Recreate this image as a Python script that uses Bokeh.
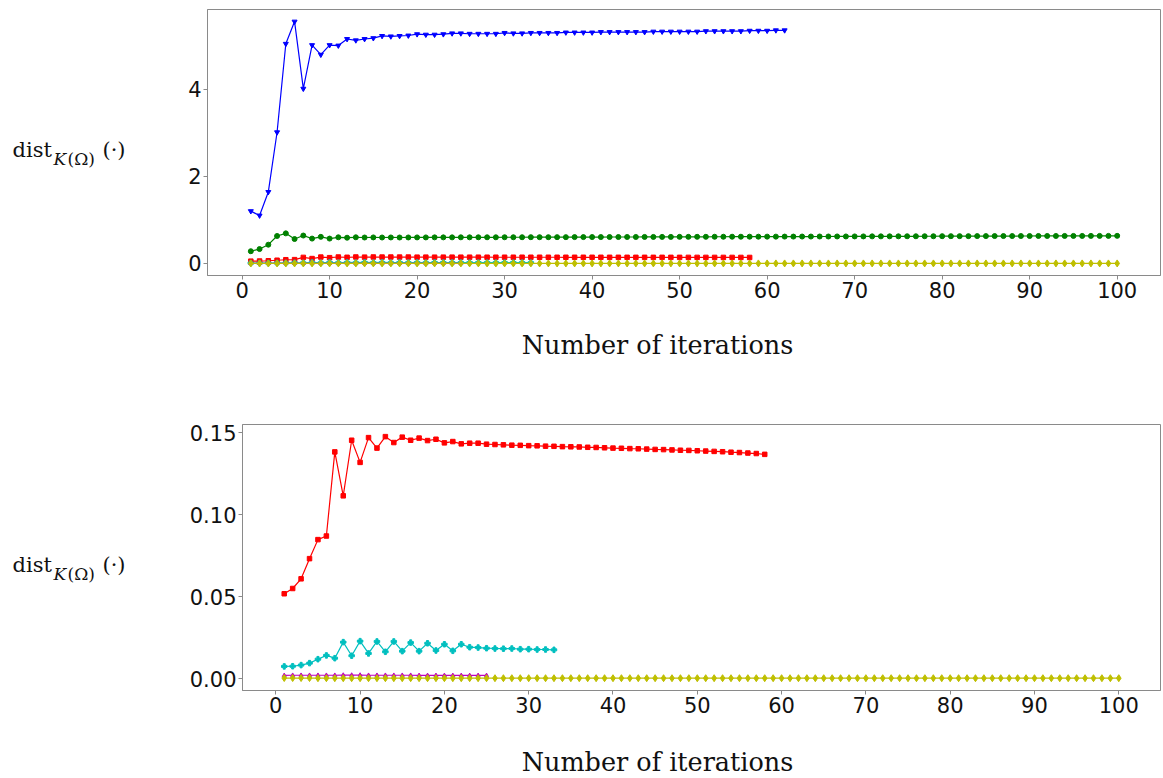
from bokeh.plotting import figure
from bokeh.models import Range1d, FixedTicker, NumeralTickFormatter, Label
from bokeh.embed import file_html
from bokeh.resources import INLINE

# ---------------- data ----------------
blue = [1.20, 1.10, 1.64, 3.01, 5.04, 5.55, 4.01, 5.01, 4.79, 5.01,
        5.00, 5.15, 5.12, 5.15, 5.17, 5.22, 5.21, 5.22, 5.23, 5.26,
        5.25, 5.25, 5.26, 5.28, 5.28, 5.27, 5.27, 5.27, 5.27, 5.29,
        5.28, 5.28, 5.29, 5.29, 5.29, 5.29, 5.30, 5.30, 5.30, 5.30,
        5.31, 5.31, 5.31, 5.31, 5.31, 5.31, 5.32, 5.32, 5.32, 5.32,
        5.32, 5.32, 5.33, 5.33, 5.33, 5.33, 5.33, 5.34, 5.34, 5.34,
        5.35, 5.35]

green = [0.28, 0.33, 0.43, 0.63, 0.69, 0.56, 0.64, 0.57, 0.61, 0.57,
         0.600, 0.590, 0.600, 0.595, 0.597, 0.595, 0.596, 0.595, 0.596, 0.597,
         0.597, 0.598, 0.598, 0.598, 0.599, 0.599, 0.600, 0.600, 0.600, 0.601,
         0.601, 0.601, 0.602, 0.602, 0.602, 0.603, 0.603, 0.604, 0.604, 0.605,
         0.605, 0.606, 0.606, 0.607, 0.607, 0.608, 0.608, 0.609, 0.609, 0.610,
         0.610, 0.611, 0.611, 0.612, 0.612, 0.613, 0.613, 0.614, 0.614, 0.615,
         0.615, 0.616, 0.616, 0.617, 0.617, 0.618, 0.618, 0.619, 0.619, 0.620,
         0.620, 0.621, 0.621, 0.622, 0.622, 0.623, 0.623, 0.624, 0.624, 0.625,
         0.625, 0.626, 0.626, 0.627, 0.627, 0.628, 0.628, 0.628, 0.629, 0.629,
         0.630, 0.630, 0.630, 0.631, 0.631, 0.631, 0.632, 0.632, 0.632, 0.633]

red = [0.0518, 0.0550, 0.0609, 0.0732, 0.0848, 0.0870, 0.1383, 0.1115, 0.1454, 0.1319,
       0.1470, 0.1406, 0.1476, 0.1440, 0.1473, 0.1454, 0.1467, 0.1452, 0.1460, 0.1438,
       0.1446, 0.1432, 0.1436, 0.1436, 0.1430, 0.1428, 0.1426, 0.1424, 0.1423, 0.1421,
       0.1420, 0.1418, 0.1417, 0.1415, 0.1414, 0.1413, 0.1411, 0.1410, 0.1408, 0.1406,
       0.1405, 0.1403, 0.1402, 0.1400, 0.1398, 0.1397, 0.1395, 0.1393, 0.1392, 0.1390,
       0.1388, 0.1386, 0.1384, 0.1381, 0.1379, 0.1376, 0.1373, 0.1368]

cyan = [0.0075, 0.0076, 0.0083, 0.0095, 0.0119, 0.0142, 0.0125, 0.0223, 0.0140, 0.0229,
        0.0154, 0.0227, 0.0164, 0.0227, 0.0168, 0.0220, 0.0168, 0.0216, 0.0172, 0.0210,
        0.0170, 0.0210, 0.0192, 0.0190, 0.0186, 0.0184, 0.0183, 0.0184, 0.0180, 0.0180,
        0.0178, 0.0178, 0.0176]

magenta = [0.0020, 0.0021, 0.0021, 0.0021, 0.0021, 0.0021, 0.0021, 0.0022, 0.0022, 0.0022,
           0.0021, 0.0021, 0.0021, 0.0021, 0.0021, 0.0021, 0.0020, 0.0020, 0.0020, 0.0020,
           0.0020, 0.0020, 0.0020, 0.0020, 0.0020]

yellow = [0.0004, 0.0004, 0.0004, 0.0004, 0.0003, 0.0003, 0.0003, 0.0003, 0.0003, 0.0003,
          0.0003, 0.0003, 0.0003, 0.0003, 0.0003, 0.0003, 0.0003, 0.0003, 0.0003, 0.0003,
          0.0003, 0.0003, 0.0003, 0.0003, 0.0003, 0.0003, 0.0003, 0.0003, 0.0003, 0.0003,
          0.0003, 0.0003, 0.0003, 0.0003, 0.0003, 0.0003, 0.0003, 0.0003, 0.0003, 0.0003,
          0.0003, 0.0003, 0.0003, 0.0003, 0.0003, 0.0003, 0.0003, 0.0003, 0.0003, 0.0003,
          0.0003, 0.0003, 0.0003, 0.0003, 0.0003, 0.0003, 0.0003, 0.0003, 0.0003, 0.0003,
          0.0003, 0.0003, 0.0003, 0.0003, 0.0003, 0.0003, 0.0003, 0.0003, 0.0003, 0.0003,
          0.0003, 0.0003, 0.0003, 0.0003, 0.0003, 0.0003, 0.0003, 0.0003, 0.0003, 0.0003,
          0.0003, 0.0003, 0.0003, 0.0003, 0.0003, 0.0003, 0.0003, 0.0003, 0.0003, 0.0003,
          0.0003, 0.0003, 0.0003, 0.0003, 0.0003, 0.0003, 0.0003, 0.0003, 0.0003, 0.0003]

x_ticks = [0, 10, 20, 30, 40, 50, 60, 70, 80, 90, 100]
top_y_ticks = [0, 2, 4]
bottom_y_ticks = [0.0, 0.05, 0.10, 0.15]
x_label = "Number of iterations"

SERIES = {
    "blue": (blue, "#0000ff", "inverted_triangle", 5),
    "green": (green, "#008000", "circle", 5),
    "red": (red, "#ff0000", "square", 4.5),
    "cyan": (cyan, "#00bfbf", "plus", 5.5),
    "magenta": (magenta, "#bf00bf", "triangle", 4),
    "yellow": (yellow, "#bfbf00", "diamond", 7),
}

GRAY = "#8a8a8a"
TXT = "#111111"
XR = (-3.95, 104.95)
SHIFT = 9  # measured render offset of side-panel labels


def style(p):
    p.xgrid.visible = False
    p.ygrid.visible = False
    p.outline_line_color = GRAY
    p.outline_line_width = 1
    p.background_fill_color = "white"
    p.border_fill_color = "white"
    for ax in (p.xaxis[0], p.yaxis[0]):
        ax.axis_line_color = GRAY
        ax.major_tick_line_color = GRAY
        ax.major_tick_out = 4
        ax.major_tick_in = 0
        ax.minor_tick_line_color = None
        ax.major_label_text_font = "DejaVu Sans"
        ax.major_label_text_font_size = "21px"
        ax.major_label_text_color = TXT
        ax.major_label_standoff = 2
    p.xaxis[0].ticker = FixedTicker(ticks=x_ticks)


def labels(p, frame, yr, fig_top, dist_base, xlab_base):
    """Side-panel labels; page-pixel positions converted through the plot scales."""
    fl, fr, ft, fb = frame

    def dx(px):
        return XR[0] + (px - fl) * (XR[1] - XR[0]) / (fr - fl)

    def dy(py):
        py = py - fig_top - SHIFT
        return yr[1] - (py - ft) * (yr[1] - yr[0]) / (fb - ft)

    common = dict(text_color=TXT, text_font="DejaVu Serif", text_baseline="alphabetic")
    p.add_layout(Label(x=dx(12), y=dy(dist_base), text="dist", text_font_size="21px",
                       **common), "left")
    p.add_layout(Label(x=dx(53), y=dy(dist_base + 9), text="K", text_font_size="17px",
                       text_font_style="italic", **common), "left")
    p.add_layout(Label(x=dx(67), y=dy(dist_base + 9), text="(Ω)", text_font_size="17px",
                       **common), "left")
    p.add_layout(Label(x=dx(102), y=dy(dist_base), text="(·)", text_font_size="21px",
                       **common), "left")
    p.add_layout(Label(x=dx(657), y=dy(xlab_base), text=x_label, text_font_size="25.5px",
                       text_align="center", **common), "below")


def draw(p, names):
    for name in names:
        vals, color, marker, size = SERIES[name]
        xs = list(range(1, len(vals) + 1))
        p.line(xs, vals, line_color=color, line_width=1.2)
        p.scatter(xs, vals, marker=marker, size=size, fill_color=color,
                  line_color=color)


H1, H2 = 392, 386
YR1 = (-0.277, 5.827)
YR2 = (-0.0072, 0.155)

# --------------- top figure ---------------
p1 = figure(width=1162, height=H1, output_backend="svg", toolbar_location=None,
            x_range=Range1d(*XR), y_range=Range1d(*YR1),
            min_border_left=207, min_border_right=2, min_border_top=9,
            min_border_bottom=H1 - 9 - 266)
style(p1)
p1.yaxis[0].ticker = FixedTicker(ticks=top_y_ticks)
draw(p1, ["blue", "green", "red", "cyan", "magenta", "yellow"])
labels(p1, (207, 1160, 9, 275), YR1, 0, 158, 353)

# --------------- bottom figure ---------------
p2 = figure(width=1162, height=H2, output_backend="svg", toolbar_location=None,
            x_range=Range1d(*XR), y_range=Range1d(*YR2),
            min_border_left=242, min_border_right=2, min_border_top=32,
            min_border_bottom=H2 - 32 - 266)
style(p2)
p2.yaxis[0].ticker = FixedTicker(ticks=bottom_y_ticks)
p2.yaxis[0].formatter = NumeralTickFormatter(format="0.00")
draw(p2, ["red", "cyan", "magenta", "yellow"])
labels(p2, (242, 1160, 32, 298), YR2, H1, 573, 770)

open("out.html", "w").write(file_html([p1, p2], INLINE))
